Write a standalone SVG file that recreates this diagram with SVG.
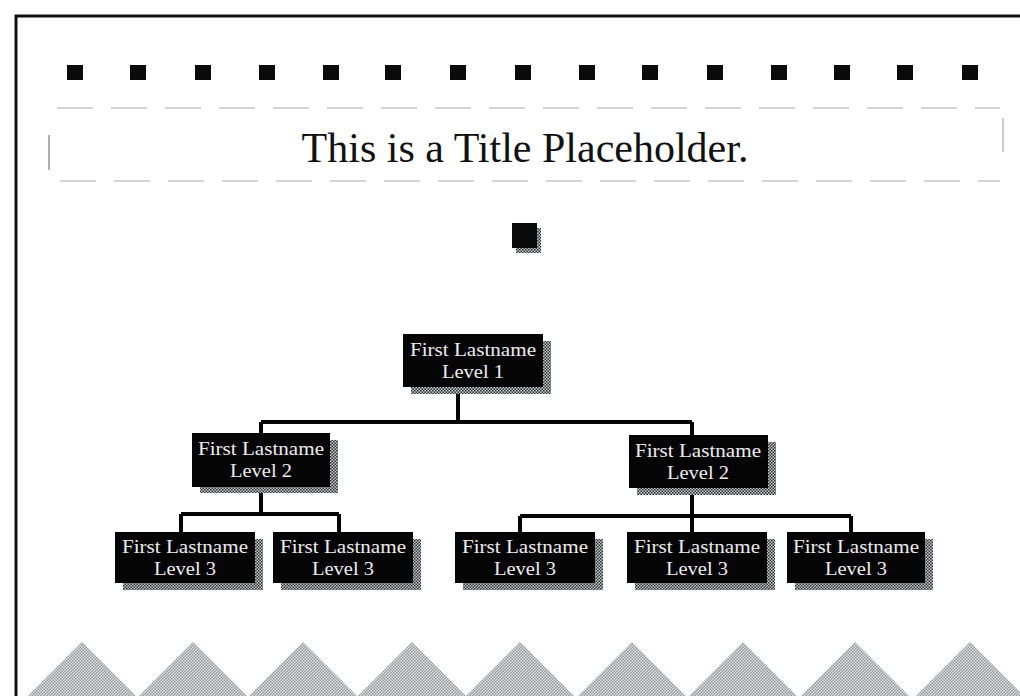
<svg xmlns="http://www.w3.org/2000/svg" width="1020" height="696" viewBox="0 0 1020 696">
<defs>
<pattern id="chk" width="3" height="3" patternUnits="userSpaceOnUse">
<rect width="3" height="3" fill="#c8cccc"/>
<rect width="1.5" height="1.5" fill="#2a2e30"/>
<rect x="1.5" y="1.5" width="1.5" height="1.5" fill="#2a2e30"/>
</pattern>
<pattern id="tri" width="3" height="3" patternUnits="userSpaceOnUse">
<rect width="3" height="3" fill="#e4e6e6"/>
<rect width="1.5" height="1.5" fill="#8d9292"/>
<rect x="1.5" y="1.5" width="1.5" height="1.5" fill="#8d9292"/>
</pattern>
<style>
.sq{fill:#0a0a0a}
.dash{stroke:#a8a8a8;stroke-width:1;stroke-dasharray:36 18;fill:none}
.box{fill:#050505}
.sh{fill:url(#chk)}
.lbl{font-family:"Liberation Serif","Times New Roman",serif;font-size:18px;fill:#ececec;text-anchor:middle}
.con{stroke:#050505;stroke-width:4;fill:none}
.tri{fill:url(#tri)}
</style>
</defs>
<rect width="1020" height="696" fill="#ffffff"/>
<path d="M16 696 V16 H1020" fill="none" stroke="#111" stroke-width="3"/>
<g id="squares">
<rect class="sq" x="67" y="65" width="16" height="15"/>
<rect class="sq" x="130" y="65" width="16" height="15"/>
<rect class="sq" x="195" y="65" width="16" height="15"/>
<rect class="sq" x="259" y="65" width="16" height="15"/>
<rect class="sq" x="323" y="65" width="16" height="15"/>
<rect class="sq" x="385" y="65" width="16" height="15"/>
<rect class="sq" x="450" y="65" width="16" height="15"/>
<rect class="sq" x="515" y="65" width="16" height="15"/>
<rect class="sq" x="579" y="65" width="16" height="15"/>
<rect class="sq" x="642" y="65" width="16" height="15"/>
<rect class="sq" x="707" y="65" width="16" height="15"/>
<rect class="sq" x="771" y="65" width="16" height="15"/>
<rect class="sq" x="834" y="65" width="16" height="15"/>
<rect class="sq" x="897" y="65" width="16" height="15"/>
<rect class="sq" x="962" y="65" width="16" height="15"/>
</g>
<g id="title">
<line class="dash" x1="57" y1="108" x2="1000" y2="108"/>
<line class="dash" x1="60" y1="181" x2="1000" y2="181"/>
<line x1="49" y1="135" x2="49" y2="170" stroke="#999" stroke-width="1.5"/>
<line x1="1003" y1="118" x2="1003" y2="152" stroke="#bbb" stroke-width="1.5"/>
<text x="525" y="162" font-family="'Liberation Serif','Times New Roman',serif" font-size="42" fill="#111" text-anchor="middle">This is a Title Placeholder.</text>
</g>
<g id="bullet">
<rect class="sh" x="516" y="228" width="25" height="25"/>
<rect class="sq" x="512" y="223" width="25" height="25"/>
</g>
<g id="connectors">
<path class="con" d="M458 387 V422 M261 422 H692 M261 422 V433 M692 422 V435"/>
<path class="con" d="M261 487 V514 M181 514 H339 M181 514 V532 M339 514 V532"/>
<path class="con" d="M692 488 V516 M520 516 H851 M520 516 V532 M692 516 V532 M851 516 V532"/>
</g>
<g id="n1"><rect class="sh" x="411" y="341" width="140" height="53"/><rect class="box" x="403" y="334" width="140" height="53"/><text class="lbl" x="473" y="356" textLength="126" lengthAdjust="spacingAndGlyphs">First Lastname</text><text class="lbl" x="473" y="378" textLength="62" lengthAdjust="spacingAndGlyphs">Level 1</text></g>
<g id="n2a"><rect class="sh" x="200" y="440" width="138" height="53"/><rect class="box" x="192" y="433" width="138" height="54"/><text class="lbl" x="261" y="455" textLength="126" lengthAdjust="spacingAndGlyphs">First Lastname</text><text class="lbl" x="261" y="477" textLength="62" lengthAdjust="spacingAndGlyphs">Level 2</text></g>
<g id="n2b"><rect class="sh" x="637" y="442" width="139" height="53"/><rect class="box" x="629" y="435" width="139" height="53"/><text class="lbl" x="698" y="457" textLength="126" lengthAdjust="spacingAndGlyphs">First Lastname</text><text class="lbl" x="698" y="479" textLength="62" lengthAdjust="spacingAndGlyphs">Level 2</text></g>
<g id="n3a"><rect class="sh" x="123" y="539" width="140" height="51"/><rect class="box" x="115" y="532" width="140" height="51"/><text class="lbl" x="185" y="553" textLength="126" lengthAdjust="spacingAndGlyphs">First Lastname</text><text class="lbl" x="185" y="575" textLength="62" lengthAdjust="spacingAndGlyphs">Level 3</text></g>
<g id="n3b"><rect class="sh" x="281" y="539" width="140" height="51"/><rect class="box" x="273" y="532" width="140" height="51"/><text class="lbl" x="343" y="553" textLength="126" lengthAdjust="spacingAndGlyphs">First Lastname</text><text class="lbl" x="343" y="575" textLength="62" lengthAdjust="spacingAndGlyphs">Level 3</text></g>
<g id="n3c"><rect class="sh" x="463" y="539" width="140" height="51"/><rect class="box" x="455" y="532" width="140" height="51"/><text class="lbl" x="525" y="553" textLength="126" lengthAdjust="spacingAndGlyphs">First Lastname</text><text class="lbl" x="525" y="575" textLength="62" lengthAdjust="spacingAndGlyphs">Level 3</text></g>
<g id="n3d"><rect class="sh" x="635" y="539" width="140" height="51"/><rect class="box" x="627" y="532" width="140" height="51"/><text class="lbl" x="697" y="553" textLength="126" lengthAdjust="spacingAndGlyphs">First Lastname</text><text class="lbl" x="697" y="575" textLength="62" lengthAdjust="spacingAndGlyphs">Level 3</text></g>
<g id="n3e"><rect class="sh" x="795" y="539" width="138" height="51"/><rect class="box" x="787" y="532" width="138" height="51"/><text class="lbl" x="856" y="553" textLength="126" lengthAdjust="spacingAndGlyphs">First Lastname</text><text class="lbl" x="856" y="575" textLength="62" lengthAdjust="spacingAndGlyphs">Level 3</text></g>
<g id="triangles">
<polygon class="tri" points="28,696 82,642 136,696"/>
<polygon class="tri" points="139,696 193,642 247,696"/>
<polygon class="tri" points="249,696 303,642 357,696"/>
<polygon class="tri" points="358,696 412,642 466,696"/>
<polygon class="tri" points="466,696 520,642 574,696"/>
<polygon class="tri" points="578,696 632,642 686,696"/>
<polygon class="tri" points="689,696 743,642 797,696"/>
<polygon class="tri" points="801,696 855,642 909,696"/>
<polygon class="tri" points="916,696 970,642 1024,696"/>
</g>
</svg>
